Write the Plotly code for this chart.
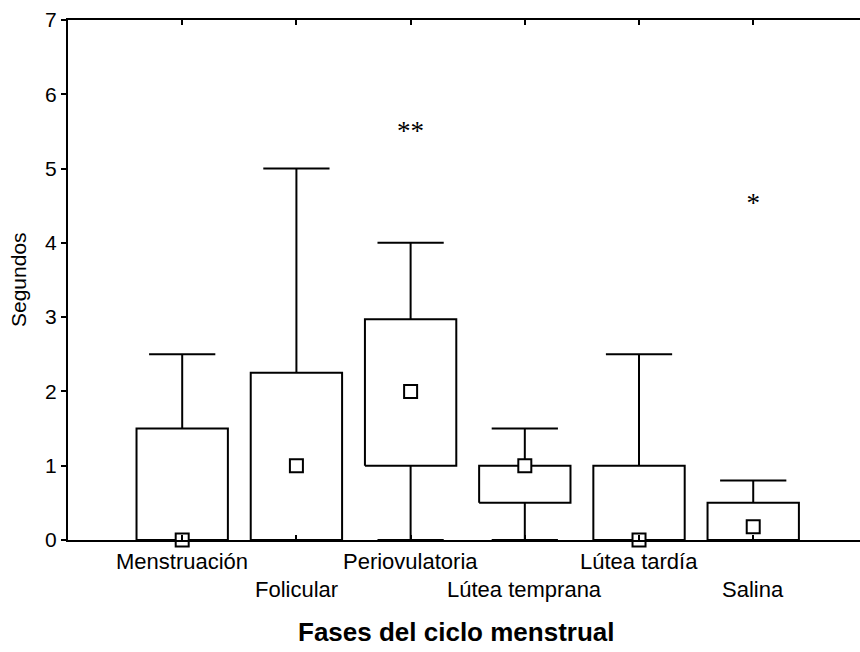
import plotly.graph_objects as go

categories = ["Menstruación", "Folicular", "Periovulatoria", "Lútea temprana", "Lútea tardía", "Salina"]
whisker_min = [0, 0, 0, 0, 0, 0]
q1 = [0, 0, 1, 0.5, 0, 0]
median = [0, 1, 2, 1, 0, 0.18]
q3 = [1.5, 2.25, 2.97, 1, 1, 0.5]
whisker_max = [2.5, 5, 4, 1.5, 2.5, 0.8]
mark_cats = [2, 5]
mark_y = [5.47, 4.5]
mark_text = ["**", "*"]
y_ticks = [0, 1, 2, 3, 4, 5, 6, 7]

BOX_HALF = 0.40
CAP_HALF = 0.29
LW = 2
FONT = "Liberation Sans, Arial, sans-serif"

fig = go.Figure()

for i, c in enumerate(categories):
    xs, ys = [], []
    xs += [i - BOX_HALF, i + BOX_HALF, i + BOX_HALF, i - BOX_HALF, i - BOX_HALF, None]
    ys += [q1[i], q1[i], q3[i], q3[i], q1[i], None]
    if whisker_max[i] > q3[i]:
        xs += [i, i, None, i - CAP_HALF, i + CAP_HALF, None]
        ys += [q3[i], whisker_max[i], None, whisker_max[i], whisker_max[i], None]
    if whisker_min[i] < q1[i]:
        xs += [i, i, None, i - CAP_HALF, i + CAP_HALF, None]
        ys += [q1[i], whisker_min[i], None, whisker_min[i], whisker_min[i], None]
    fig.add_trace(go.Scatter(x=xs, y=ys, mode="lines",
                             line=dict(color="black", width=LW),
                             cliponaxis=False, showlegend=False, hoverinfo="skip"))

fig.add_trace(go.Scatter(x=list(range(len(categories))), y=median, mode="markers",
                         marker=dict(symbol="square", size=13, color="white",
                                     line=dict(color="black", width=2)),
                         cliponaxis=False, showlegend=False))

fig.add_trace(go.Scatter(x=mark_cats, y=mark_y, mode="text", text=mark_text,
                         textfont=dict(family="Liberation Serif, Times New Roman, serif", size=27, color="black"),
                         textposition="middle center", cliponaxis=False, showlegend=False))

annotations = []
for i, c in enumerate(categories):
    annotations.append(dict(x=i, xref="x", y=-0.0423 if i % 2 == 0 else -0.096, yref="paper",
                            text=c, showarrow=False, xanchor="center", yanchor="middle",
                            font=dict(family=FONT, size=22, color="black")))
annotations.append(dict(x=-0.0631, xref="paper", y=0.5, yref="paper", text="Segundos",
                        textangle=-90, showarrow=False, xanchor="center", yanchor="middle",
                        font=dict(family=FONT, size=21, color="black")))
annotations.append(dict(x=0.4899, xref="paper", y=-0.177, yref="paper",
                        text="<b>Fases del ciclo menstrual</b>", showarrow=False,
                        xanchor="center", yanchor="middle",
                        font=dict(family=FONT, size=26, color="black")))

fig.update_layout(
    width=860, height=652,
    margin=dict(l=68, r=0, t=20, b=112),
    paper_bgcolor="white", plot_bgcolor="white",
    annotations=annotations,
    xaxis=dict(range=[-1, 5.935], tickvals=list(range(len(categories))), showticklabels=False,
               ticks="inside", ticklen=5, tickwidth=2, tickcolor="black",
               showline=True, linecolor="black", linewidth=2, mirror="ticks",
               showgrid=False, zeroline=False),
    yaxis=dict(range=[0, 7], tickvals=y_ticks, ticks="outside", ticklen=5, tickwidth=2,
               tickcolor="black", showline=True, linecolor="black", linewidth=2,
               showgrid=False, zeroline=False,
               tickfont=dict(family=FONT, size=21, color="black")),
)

fig.write_html("out.html")
